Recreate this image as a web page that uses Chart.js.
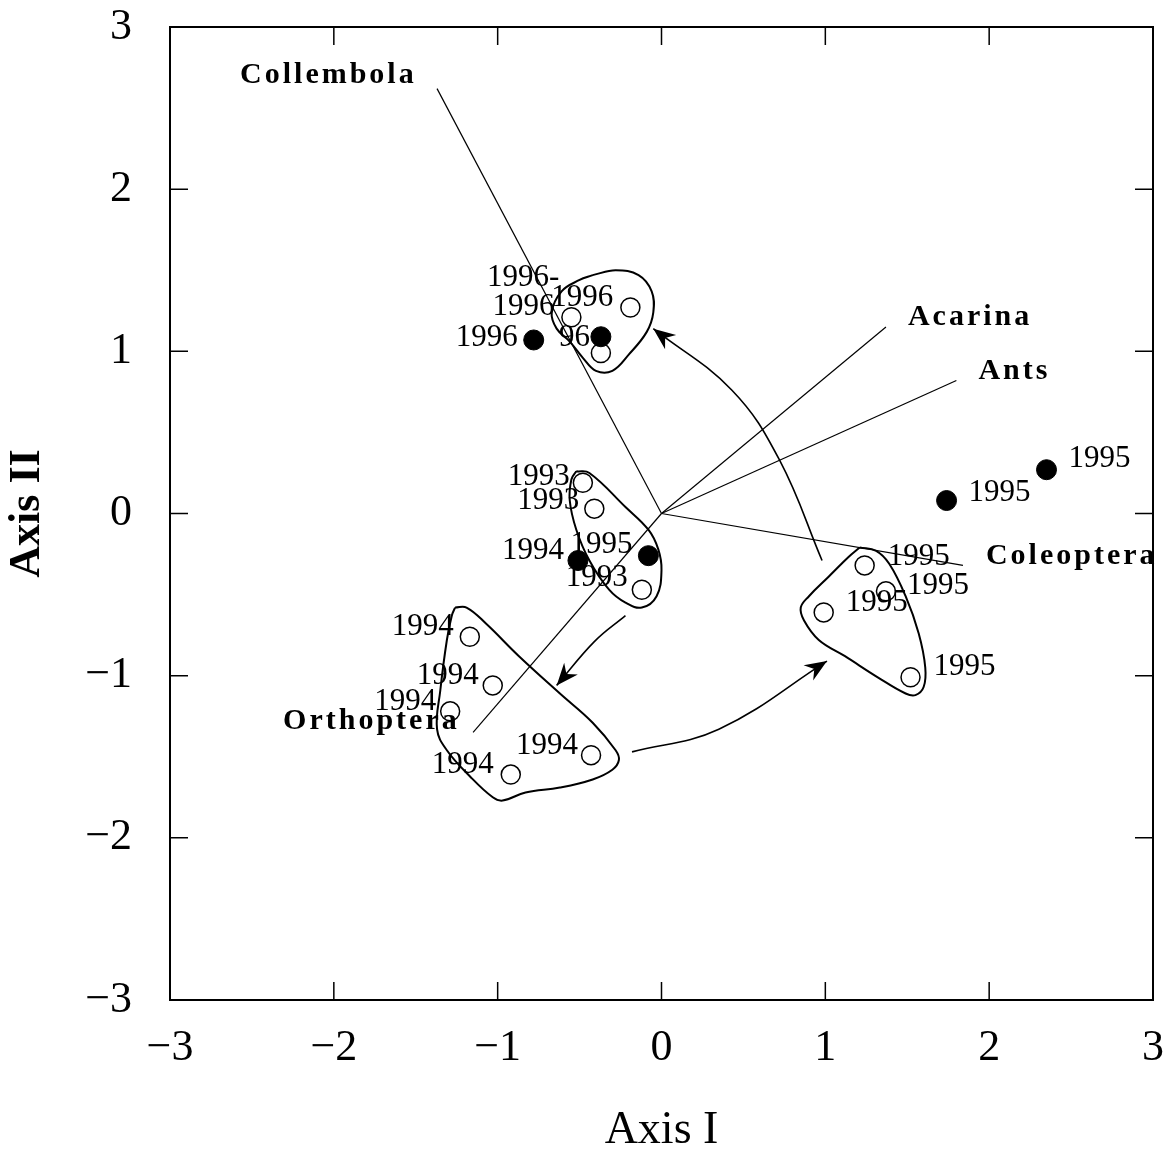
<!DOCTYPE html>
<html>
<head>
<meta charset="utf-8">
<script src="https://cdn.jsdelivr.net/npm/chart.js@4.4.1/dist/chart.umd.min.js"></script>
<style>
  body { margin: 0; background: #fff; }
  canvas { display: block; }
</style>
</head>
<body>
<canvas id="ordination_Chart" width="1164" height="1154"></canvas>
<script>
// sites, open circles
var openX = [-0.55, -0.19, -0.37, -0.48, -0.41, -0.12, -1.17, -1.03, -1.29, -0.92, -0.43, 1.24, 1.37, 0.99, 1.52];
var openY = [1.21, 1.27, 0.99, 0.19, 0.03, -0.47, -0.76, -1.06, -1.22, -1.61, -1.49, -0.32, -0.48, -0.61, -1.01];
var openLabels = ['1996', '1996', '1996-', '1993', '1993', '1993', '1994', '1994', '1994', '1994', '1994', '1995', '1995', '1995', '1995'];

// sites, filled circles
var filledX = [-0.78, -0.37, -0.51, -0.08, 1.74, 2.35];
var filledY = [1.07, 1.09, -0.29, -0.26, 0.08, 0.27];
var filledLabels = ['1996', '96', '1994', '1995', '1995', '1995'];

// species vectors (from origin)
var vectorNames = ['Collembola', 'Acarina', 'Ants', 'Coleoptera', 'Orthoptera'];
var vectorX = [-1.37, 1.37, 1.80, 1.84, -1.15];
var vectorY = [2.62, 1.15, 0.82, -0.32, -1.35];

// outlines around each year group
var hull1996X = [-0.42, -0.28, -0.14, -0.06, -0.05, -0.09, -0.20, -0.30, -0.40, -0.48, -0.56, -0.64, -0.67, -0.61, -0.50];
var hull1996Y = [1.47, 1.50, 1.47, 1.37, 1.24, 1.12, 0.98, 0.88, 0.88, 0.96, 1.06, 1.14, 1.24, 1.37, 1.44];
var hull1993X = [-0.52, -0.44, -0.22, -0.08, -0.02, 0.00, -0.03, -0.12, -0.22, -0.32, -0.44, -0.52, -0.56, -0.55];
var hull1993Y = [0.26, 0.25, 0.04, -0.10, -0.22, -0.35, -0.51, -0.58, -0.55, -0.47, -0.29, -0.10, 0.08, 0.21];
var hull1994X = [-1.26, -1.19, -1.07, -0.87, -0.62, -0.42, -0.28, -0.26, -0.30, -0.42, -0.62, -0.83, -0.97, -1.03, -1.17, -1.31, -1.37, -1.35, -1.31, -1.28];
var hull1994Y = [-0.58, -0.58, -0.68, -0.88, -1.11, -1.29, -1.46, -1.52, -1.58, -1.64, -1.69, -1.72, -1.77, -1.75, -1.62, -1.46, -1.33, -1.09, -0.78, -0.63];
var hull1995X = [1.21, 1.31, 1.39, 1.49, 1.57, 1.61, 1.60, 1.55, 1.49, 1.32, 1.12, 0.96, 0.87, 0.85, 0.90, 1.02, 1.14];
var hull1995Y = [-0.21, -0.23, -0.31, -0.51, -0.74, -0.95, -1.07, -1.12, -1.11, -1.01, -0.88, -0.78, -0.66, -0.58, -0.51, -0.39, -0.27];

// curved arrows between years (last point = tip)
var arrow1X = [-0.22, -0.41, -0.64];
var arrow1Y = [-0.63, -0.79, -1.06];
var arrow2X = [-0.18, 0.35, 1.01];
var arrow2Y = [-1.47, -1.33, -0.91];
var arrow3X = [0.98, 0.72, 0.43, -0.05];
var arrow3Y = [-0.29, 0.33, 0.76, 1.14];

// axis tick labels
var xTickLabels = ['\u22123', '\u22122', '\u22121', '0', '1', '2', '3'];
var yTickLabels = ['\u22123', '\u22122', '\u22121', '0', '1', '2', '3'];

// label placement (pixels: text left, middle) relative to each mark
var openLabelOffsets = [[-79, -10], [-79, -10], [-114, -75], [-75, -6], [-77, -8], [-76, -12], [-78, -10], [-76, -10], [-76, -9], [-79, -10], [-75, -9], [23, -9], [21, -5], [22, -10], [23, -10]];
var filledLabelOffsets = [[-78, -2], [-42, 1], [-76, -10], [-78, -11], [22, -8], [22, -11]];
var vectorLabelOffsets = [[-197, -13], [22, -10], [22, -9], [23, -9], [-190, -11]];

var SERIF = '"Liberation Serif", "Times New Roman", serif';

function toPoints(xs, ys) {
    return xs.map(function (v, i) { return { x: v, y: ys[i] }; });
}
function closed(xs, ys) {
    var p = toPoints(xs, ys);
    p.push(p[0]);
    return p;
}

function lineSet(data, width, tension) {
    return {
        data: data,
        showLine: true,
        fill: false,
        borderColor: '#000',
        borderWidth: width,
        tension: tension,
        pointRadius: 0,
        pointHoverRadius: 0,
        order: 3
    };
}

var arrows = [[arrow1X, arrow1Y], [arrow2X, arrow2Y], [arrow3X, arrow3Y]];

var datasets = [];
[[hull1996X, hull1996Y], [hull1993X, hull1993Y], [hull1994X, hull1994Y], [hull1995X, hull1995Y]].forEach(function (h) {
    datasets.push(lineSet(closed(h[0], h[1]), 2, 0.4));
});
vectorNames.forEach(function (n, i) {
    datasets.push(lineSet([{ x: 0, y: 0 }, { x: vectorX[i], y: vectorY[i] }], 1.2, 0));
});
arrows.forEach(function (a) {
    datasets.push(lineSet(toPoints(a[0], a[1]), 1.6, 0.4));
});
datasets.push({
    data: toPoints(openX, openY),
    pointRadius: 9.5,
    pointHoverRadius: 9.5,
    pointBackgroundColor: '#fff',
    pointBorderColor: '#000',
    pointBorderWidth: 1.5,
    order: 1
});
datasets.push({
    data: toPoints(filledX, filledY),
    pointRadius: 10,
    pointHoverRadius: 10,
    pointBackgroundColor: '#000',
    pointBorderColor: '#000',
    pointBorderWidth: 1,
    order: 0
});

// arrowheads, text labels, frame with inward ticks
var annotate = {
    id: 'annotate',
    afterDatasetsDraw: function (chart) {
        var ctx = chart.ctx, a = chart.chartArea;
        var xs = chart.scales.x, ys = chart.scales.y;
        ctx.save();

        arrows.forEach(function (ar) {
            var n = ar[0].length;
            var x1 = xs.getPixelForValue(ar[0][n - 2]), y1 = ys.getPixelForValue(ar[1][n - 2]);
            var x2 = xs.getPixelForValue(ar[0][n - 1]), y2 = ys.getPixelForValue(ar[1][n - 1]);
            var ang = Math.atan2(y2 - y1, x2 - x1);
            ctx.save();
            ctx.translate(x2, y2);
            ctx.rotate(ang);
            ctx.beginPath();
            ctx.moveTo(0, 0);
            ctx.lineTo(-22, -9);
            ctx.lineTo(-15, 0);
            ctx.lineTo(-22, 9);
            ctx.closePath();
            ctx.fillStyle = '#000';
            ctx.fill();
            ctx.restore();
        });

        ctx.fillStyle = '#000';
        ctx.textAlign = 'left';
        ctx.textBaseline = 'middle';
        ctx.font = '31px ' + SERIF;
        openLabels.forEach(function (t, i) {
            ctx.fillText(t, xs.getPixelForValue(openX[i]) + openLabelOffsets[i][0], ys.getPixelForValue(openY[i]) + openLabelOffsets[i][1]);
        });
        filledLabels.forEach(function (t, i) {
            ctx.fillText(t, xs.getPixelForValue(filledX[i]) + filledLabelOffsets[i][0], ys.getPixelForValue(filledY[i]) + filledLabelOffsets[i][1]);
        });

        ctx.font = 'bold 30px ' + SERIF;
        ctx.letterSpacing = '3px';
        vectorNames.forEach(function (t, i) {
            ctx.fillText(t, xs.getPixelForValue(vectorX[i]) + vectorLabelOffsets[i][0], ys.getPixelForValue(vectorY[i]) + vectorLabelOffsets[i][1]);
        });
        ctx.letterSpacing = '0px';

        // frame
        ctx.strokeStyle = '#000';
        ctx.lineWidth = 2;
        ctx.strokeRect(a.left, a.top, a.right - a.left, a.bottom - a.top);
        ctx.lineWidth = 1.5;
        var tl = 18;
        ctx.beginPath();
        xs.ticks.forEach(function (t) {
            var px = xs.getPixelForValue(t.value);
            ctx.moveTo(px, a.bottom); ctx.lineTo(px, a.bottom - tl);
            ctx.moveTo(px, a.top); ctx.lineTo(px, a.top + tl);
        });
        ys.ticks.forEach(function (t) {
            var py = ys.getPixelForValue(t.value);
            ctx.moveTo(a.left, py); ctx.lineTo(a.left + tl, py);
            ctx.moveTo(a.right, py); ctx.lineTo(a.right - tl, py);
        });
        ctx.stroke();
        ctx.restore();
    }
};

var ctx = document.getElementById('ordination_Chart').getContext('2d');
var myChart = new Chart(ctx, {
    type: 'scatter',
    data: { datasets: datasets },
    options: {
        responsive: false,
        animation: false,
        layout: { padding: { top: 27, right: 9, left: 0, bottom: 0 } },
        plugins: {
            legend: { display: false },
            tooltip: { enabled: false }
        },
        scales: {
            x: {
                type: 'linear',
                min: -3,
                max: 3,
                ticks: {
                    stepSize: 1,
                    color: '#000',
                    padding: 22,
                    font: { family: SERIF, size: 44 },
                    callback: function (v, i) { return xTickLabels[i]; }
                },
                grid: { display: false, drawTicks: false },
                border: { display: false },
                title: {
                    display: true,
                    text: 'Axis I',
                    color: '#000',
                    font: { family: SERIF, size: 46, lineHeight: 1 },
                    padding: { top: 0, bottom: 0 }
                },
                afterFit: function (s) { s.height = 154; s.paddingLeft = 0; s.paddingRight = 0; }
            },
            y: {
                type: 'linear',
                min: -3,
                max: 3,
                ticks: {
                    stepSize: 1,
                    color: '#000',
                    padding: 38,
                    font: { family: SERIF, size: 44 },
                    callback: function (v, i) { return yTickLabels[i]; }
                },
                grid: { display: false, drawTicks: false },
                border: { display: false },
                title: {
                    display: true,
                    text: 'Axis II',
                    color: '#000',
                    font: { family: SERIF, size: 44, weight: 'bold', lineHeight: 1 },
                    padding: { top: 6, bottom: 0 }
                },
                afterFit: function (s) { s.width = 170; s.paddingTop = 0; s.paddingBottom = 0; }
            }
        }
    },
    plugins: [annotate]
});
</script>
</body>
</html>
